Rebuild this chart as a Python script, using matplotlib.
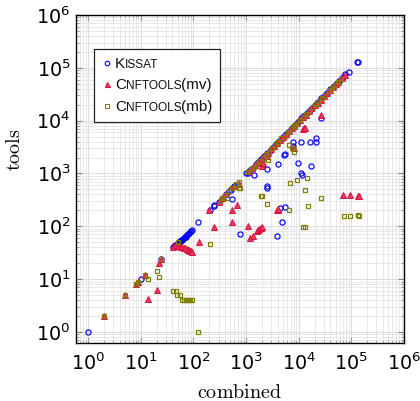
import numpy as np
import matplotlib
matplotlib.use('Agg')
import matplotlib.pyplot as plt
from matplotlib.ticker import FixedLocator, LogFormatterMathtext, NullFormatter
from matplotlib.offsetbox import AnchoredOffsetbox, VPacker, HPacker, TextArea, DrawingArea
from matplotlib.lines import Line2D

plt.rcParams['mathtext.fontset'] = 'cm'

# ---- data (combined, tools) ----
kissat_x = [1, 10, 24,
            41, 43, 45, 47, 49, 51, 53, 55, 57, 59, 61, 63, 65, 67, 69, 71, 73, 75, 78, 81, 84, 87, 90, 93,
            53, 123, 206, 246, 250, 300, 360, 420, 470, 510, 550, 600, 640, 550, 760,
            1000, 1070, 1150, 1250, 1400, 1400, 1550, 1700, 1850, 2000, 2200, 2500, 2800, 3100, 3500,
            3900, 4300, 4800, 5000, 5300, 5800, 6400, 7000, 7700, 8500, 9300, 10200, 11200, 12300,
            13500, 15000, 16500, 18000, 20000, 22000, 24500, 27000, 30000, 33000, 36500, 40000,
            44000, 48000, 53000, 58000, 64000, 70000, 77000, 92000, 130000, 135000,
            26000, 21000, 21000, 16500, 11000, 7900, 7800, 5300, 5600, 9800, 11000, 11500, 17000,
            4000, 2500, 2500, 2500, 3900, 4800, 4500, 5600]
kissat_y = [1, 10, 24,
            41, 42, 44, 45, 47, 48, 50, 52, 53, 55, 56, 58, 60, 61, 63, 64, 66, 68, 70, 73, 76, 79, 82, 85,
            41, 118, 200, 245, 250, 290, 350, 410, 460, 490, 540, 590, 600, 325, 72,
            1000, 1000, 1100, 1200, 1300, 940, 1500, 1650, 1800, 1950, 2100, 2400, 2700, 3000, 3400,
            3800, 4200, 4600, 4700, 5100, 5600, 6200, 6800, 7500, 8300, 9100, 10000, 11000, 12000,
            13200, 14500, 16000, 17500, 19500, 21500, 24000, 26500, 29000, 32000, 35500, 39000,
            43000, 47000, 52000, 57000, 62000, 68000, 75000, 83000, 128000, 130000,
            11000, 4700, 4000, 4000, 4000, 3900, 3300, 2200, 2300, 1600, 1000, 950, 1400,
            1500, 1200, 590, 530, 66, 120, 220, 230]

mv_x = [2, 5, 8, 9, 12, 14, 20, 22, 24, 41, 45,
        46, 50, 54, 58, 62, 66, 70, 74, 78, 82, 86, 90, 95,
        126, 200, 250, 300, 355, 420, 530, 530, 600, 660, 740, 1070, 1200, 1350,
        1600, 1700, 1800, 1900, 2050, 3900, 4000, 4100,
        69000, 93000, 135000, 138000,
        26000, 12000, 12500, 13000, 7700, 8000, 1800, 2000, 2100, 2500, 2600,
        1150, 1300, 1500, 1700, 2000, 2300, 3000, 3400, 3900, 4400, 5000, 5700, 6500, 7300,
        8200, 9200, 10500, 12000, 13500, 15500, 17500, 20000, 23000, 26000, 30000, 34000,
        39000, 44000, 50000, 57000, 65000, 75000]
mv_y = [2, 5, 8, 9, 12, 4.2, 6.2, 20.5, 24, 41, 45,
        44, 43, 42, 41, 40, 39, 38, 37, 36, 35, 34, 34, 33,
        50, 200, 97, 290, 340, 410, 123, 200, 590, 250, 630, 100, 59, 66,
        80, 84, 88, 92, 97, 200, 205, 210,
        390, 390, 375, 380,
        13000, 7000, 7200, 7400, 3200, 3100, 1550, 1400, 1600, 2100, 2400,
        1100, 1250, 1450, 1650, 1950, 2250, 2900, 3300, 3800, 4300, 4900, 5500, 6300, 7100,
        8000, 9000, 10200, 11600, 13000, 15000, 17000, 19500, 22000, 25000, 29000, 33000,
        38000, 43000, 49000, 55000, 63000, 72000]

mb_x = [2, 5, 8, 9, 12, 14, 20, 22, 24, 41, 46, 49, 56, 61, 66, 71, 76, 82, 88, 95, 123, 50,
        205, 350, 440, 740, 760,
        1900, 2050, 2500, 6600, 6900, 9300, 14500, 13000, 15000, 12000, 13000, 26000,
        72000, 93000, 135000, 140000,
        6600, 8300, 7500, 2600,
        330, 400, 470, 550, 650, 720, 1100, 1250, 1400, 1600, 1800, 2100, 2400, 2700, 3100,
        3600, 4100, 4700, 5400, 6200, 7000, 8000, 9000, 10500, 12000, 14000, 16000, 18500,
        21000, 24000, 28000, 32000, 37000, 42000, 48000, 55000, 63000]
mb_y = [2, 5, 8, 9, 12, 10, 14, 11, 24, 6, 6, 5, 5, 4, 4, 4, 4, 4, 4, 4, 1, 51,
        46, 340, 340, 525, 525,
        370, 380, 265, 200, 660, 740, 810, 490, 245, 98, 98, 340,
        158, 158, 160, 158,
        3500, 2600, 3000, 1800,
        320, 390, 460, 530, 620, 700, 1050, 1200, 1350, 1550, 1750, 2000, 2300, 2600, 3000,
        3500, 4000, 4600, 5200, 6000, 6800, 7800, 8800, 10200, 11700, 13500, 15500, 18000,
        20500, 23500, 27000, 31000, 36000, 41000, 47000, 54000, 61000]

major_ticks = [1e0, 1e1, 1e2, 1e3, 1e4, 1e5, 1e6]

blue = '#0000ff'
red = '#dc1040'
olive = '#808000'

fig = plt.figure(figsize=(4.2, 4.01), dpi=100)
ax = fig.add_axes([76/420, 1-343/401, 328/420, 328/401])

ax.plot(kissat_x, kissat_y, linestyle='none', marker='o', markersize=3.7,
        markerfacecolor='none', markeredgecolor=blue, markeredgewidth=0.85)
ax.plot(mv_x, mv_y, linestyle='none', marker='^', markersize=4.0,
        markerfacecolor='#e83a5e', markeredgecolor=red, markeredgewidth=0.7)
ax.plot(mb_x, mb_y, linestyle='none', marker='s', markersize=3.5,
        markerfacecolor='none', markeredgecolor=olive, markeredgewidth=0.9)

ax.set_xscale('log')
ax.set_yscale('log')
ax.set_xlim(10**-0.23, 10**6.0)
ax.set_ylim(10**-0.21, 10**6.0)

# minor ticks at 2..9 of each decade inside the view
minor_ticks = [m * 10.0**d for d in range(-1, 6) for m in range(2, 10)]
for axis in (ax.xaxis, ax.yaxis):
    axis.set_major_locator(FixedLocator(major_ticks))
    axis.set_minor_locator(FixedLocator([t for t in minor_ticks if t > 0.6]))
    axis.set_major_formatter(LogFormatterMathtext())
    axis.set_minor_formatter(NullFormatter())

ax.grid(which='major', color='#dddddd', linewidth=0.8)
ax.grid(which='minor', color='#e4e4e4', linewidth=0.6)
ax.set_axisbelow(True)

ax.tick_params(which='both', direction='in', top=True, right=True, labelsize=13.8)
ax.tick_params(which='major', length=4.3, width=0.8, color='#808080')
ax.tick_params(which='minor', length=2.2, width=0.6, color='#909090')
ax.tick_params(axis='x', which='major', pad=7)
ax.tick_params(axis='y', which='major', pad=4)
for s in ax.spines.values():
    s.set_linewidth(1.0)
    s.set_color('black')

ax.set_xlabel(r'$\mathrm{combined}$', fontsize=14.5, labelpad=6)
ax.set_ylabel(r'$\mathrm{tools}$', fontsize=14.5)
ax.yaxis.set_label_coords(-0.16, 0.59)

# ---- legend with small caps ----
def sc_row(marker, mfc, mec, parts):
    da = DrawingArea(7, 7, 0, 1)
    da.add_artist(Line2D([3.5], [3.5], marker=marker, markersize=3.3 if marker != '^' else 3.6,
                         markerfacecolor=mfc, markeredgecolor=mec, markeredgewidth=0.8,
                         linestyle='none'))
    texts = [TextArea(t, textprops=dict(size=sz, family='Liberation Sans', color='#111111'))
             for t, sz in parts]
    inner = HPacker(children=texts, align='baseline', pad=0, sep=0)
    return HPacker(children=[da, inner], align='baseline', pad=0, sep=2.5)

rows = [
    sc_row('o', 'none', blue, [('K', 11), ('ISSAT', 8.6)]),
    sc_row('^', '#e83a5e', red, [('C', 11), ('NFTOOLS', 8.6), ('(mv)', 11)]),
    sc_row('s', 'none', olive, [('C', 11), ('NFTOOLS', 8.6), ('(mb)', 11)]),
]
box = VPacker(children=rows, align='left', pad=0, sep=5.5)
anch = AnchoredOffsetbox(loc='upper left', child=box, pad=0.55, borderpad=0, frameon=True,
                         bbox_to_anchor=(94/420, 1-49/401), bbox_transform=fig.transFigure)
anch.patch.set_boxstyle('square', pad=0)
anch.patch.set_edgecolor('#222222')
anch.patch.set_linewidth(0.9)
ax.add_artist(anch)

fig.savefig('out.png', dpi=100)
plt.close(fig)
